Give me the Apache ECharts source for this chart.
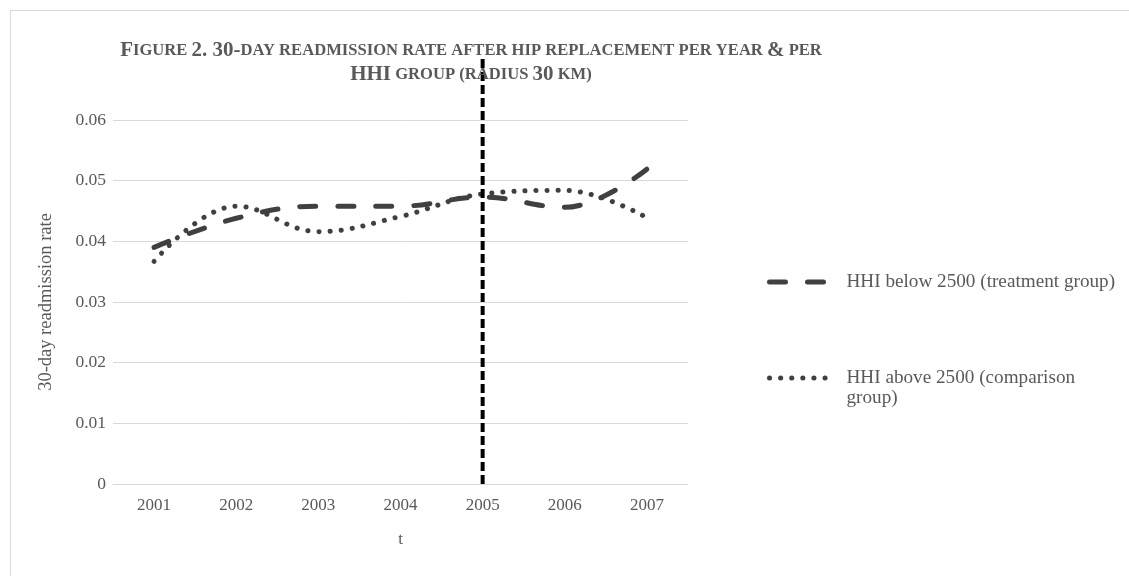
<!DOCTYPE html>
<html>
<head>
<meta charset="utf-8">
<script src="https://cdn.jsdelivr.net/npm/echarts@6/dist/echarts.min.js"></script>
<style>
  html, body { margin: 0; padding: 0; background: #fff; overflow: hidden; }
  #chart { position: absolute; left: 0; top: 0; width: 1129px; height: 576px; }
  #frame { position: absolute; left: 10px; top: 10px; width: 1125px; height: 600px; border: 1px solid #d9d9d9; box-sizing: border-box; pointer-events: none; }
</style>
</head>
<body>
<div id="chart"></div>
<div id="frame"></div>
<script>
const years = ['2001', '2002', '2003', '2004', '2005', '2006', '2007'];
const treatmentName = 'HHI below 2500 (treatment group)';
const comparisonName = 'HHI above 2500 (comparison group)';
const treatment = [0.0390, 0.0438, 0.0458, 0.0458, 0.0473, 0.0456, 0.0519];
const comparison = [0.0367, 0.0458, 0.0416, 0.0441, 0.0478, 0.0484, 0.0439];
const yTickMin = 0;
const yTickMax = 0.06;
const yTickStep = 0.01;
const cutoffYear = '2005';
const cutoffTop = 0.0701;

const grey = '#595959';
const lineCol = '#404040';
const serif = '"Liberation Serif", "Times New Roman", serif';

const chart = echarts.init(document.getElementById('chart'));
chart.setOption({
  backgroundColor: 'transparent',
  animation: false,
  title: {
    text: '{b|F}{s|IGURE }{b|2. 30-}{s|DAY READMISSION RATE AFTER HIP REPLACEMENT PER YEAR }{b|&}{s| PER}\n{b|HHI}{s| GROUP (RADIUS }{b|30}{s| KM)}',
    left: 466,
    top: 34,
    textAlign: 'center',
    textStyle: {
      fontFamily: serif,
      fontWeight: 'bold',
      color: grey,
      lineHeight: 24,
      rich: {
        b: { fontFamily: serif, fontWeight: 'bold', fontSize: 21, color: grey, lineHeight: 24 },
        s: { fontFamily: serif, fontWeight: 'bold', fontSize: 16.6, color: grey, lineHeight: 24 }
      }
    }
  },
  grid: { left: 113, right: 441, top: 120, bottom: 92 },
  legend: {
    orient: 'vertical',
    left: 762,
    top: 267,
    itemWidth: 60,
    itemHeight: 14,
    itemGap: 56,
    itemStyle: { opacity: 0 },
    lineStyle: { width: 5 },
    textStyle: { fontFamily: serif, fontSize: 19.2, color: grey, lineHeight: 20, padding: [0, 0, 0, 12] },
    formatter: function (name) {
      return name === comparisonName ? ' \nHHI above 2500 (comparison\ngroup)' : name;
    },
    data: [treatmentName, comparisonName]
  },
  xAxis: {
    type: 'category',
    data: years,
    boundaryGap: true,
    name: 't',
    nameLocation: 'middle',
    nameGap: 47,
    nameTextStyle: { fontFamily: serif, fontSize: 17, color: grey },
    axisLine: { show: true, lineStyle: { color: '#d9d9d9', width: 1 } },
    axisTick: { show: false },
    axisLabel: { fontFamily: serif, fontSize: 17, color: grey, margin: 13 }
  },
  yAxis: {
    type: 'value',
    min: yTickMin,
    max: yTickMax,
    interval: yTickStep,
    name: '30-day readmission rate',
    nameLocation: 'middle',
    nameGap: 57,
    nameRotate: 90,
    nameTextStyle: { fontFamily: serif, fontSize: 18.5, color: grey },
    axisLine: { show: false },
    axisTick: { show: false },
    axisLabel: { fontFamily: serif, fontSize: 17.5, color: grey, margin: 7,
      formatter: function (v) { return v === 0 ? '0' : v.toFixed(2); } },
    splitLine: { lineStyle: { color: '#d9d9d9', width: 1 } }
  },
  series: [
    {
      name: treatmentName,
      type: 'line',
      data: treatment,
      smooth: 0.4,
      symbol: 'none',
      lineStyle: { color: lineCol, width: 5, type: [16, 22], cap: 'round' },
      itemStyle: { color: lineCol },
      z: 3
    },
    {
      name: comparisonName,
      type: 'line',
      data: comparison,
      smooth: 0.4,
      symbol: 'none',
      lineStyle: { color: lineCol, width: 5, type: [0.1, 11], cap: 'round' },
      itemStyle: { color: lineCol },
      z: 2
    },
    {
      name: 'cutoff',
      type: 'line',
      data: [[cutoffYear, yTickMin], [cutoffYear, cutoffTop]],
      clip: false,
      symbol: 'none',
      silent: true,
      lineStyle: { color: '#000', width: 4, type: [9, 4], cap: 'butt' },
      z: 4
    }
  ]
});
</script>
</body>
</html>
